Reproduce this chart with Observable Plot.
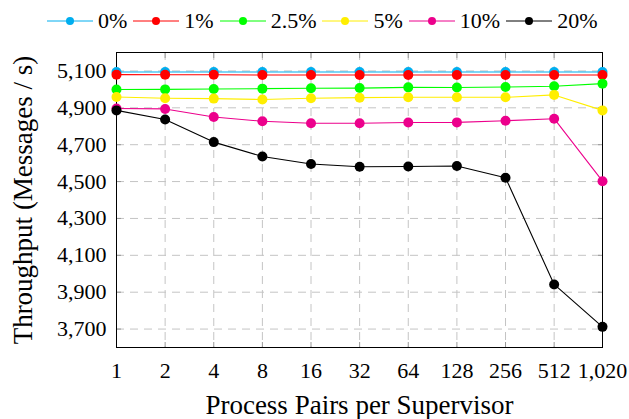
<!DOCTYPE html>
<html><head><meta charset="utf-8">
<script src="https://cdn.jsdelivr.net/npm/d3@7"></script>
<script src="https://cdn.jsdelivr.net/npm/@observablehq/plot@0.6"></script>
<style>
body { margin: 0; background: #fff; }
.c { font-family: 'Liberation Serif'; }
#legend { height: 40px; display: flex; align-items: center; padding-left: 47px; padding-top: 2px; box-sizing: border-box; color: #000; font-size: 22px; }
.item { display: flex; align-items: center; margin-right: 6px; }
.item svg { margin-right: 5px; }
</style></head>
<body>
<div id="legend" class="c" style="font-family:'Liberation Serif'"></div>
<div id="chart" class="c" style="font-family:'Liberation Serif'"></div>
<script>
const pairs = [1, 2, 4, 8, 16, 32, 64, 128, 256, 512, 1020];
const seriesNames = ["0%", "1%", "2.5%", "5%", "10%", "20%"];
const seriesColors = ["#00aeef", "#ff0000", "#00ff00", "#ffee00", "#ec008c", "#000000"];
const s0  = [5094, 5094, 5094, 5094, 5094, 5094, 5094, 5094, 5094, 5094, 5094];
const s1  = [5080, 5079, 5079, 5078, 5078, 5078, 5078, 5078, 5078, 5078, 5078];
const s25 = [4999, 5000, 5002, 5004, 5006, 5007, 5011, 5010, 5013, 5017, 5031];
const s5  = [4959, 4952, 4950, 4945, 4952, 4955, 4957, 4957, 4957, 4970, 4886];
const s10 = [4896, 4894, 4850, 4827, 4816, 4816, 4820, 4821, 4830, 4841, 4502];
const s20 = [4886, 4837, 4714, 4636, 4595, 4580, 4582, 4584, 4521, 3942, 3712];
const yTicks = [3700, 3900, 4100, 4300, 4500, 4700, 4900, 5100];

const allSeries = [s0, s1, s25, s5, s10, s20];
const data = [];
allSeries.forEach((vals, i) => vals.forEach((v, j) => data.push({series: seriesNames[i], x: pairs[j], y: v})));

document.getElementById("legend").innerHTML = seriesNames.map((name, i) =>
  `<div class="item"><svg width="46" height="12"><line x1="0" x2="46" y1="6" y2="6" stroke="${seriesColors[i]}" stroke-width="1"/><circle cx="23" cy="6" r="4" fill="${seriesColors[i]}"/></svg><span style="font-family:'Liberation Serif'">${name}</span></div>`
).join("");

const fmt = d3.format(",");
const F = "Liberation Serif";
const chart = Plot.plot({
  width: 629,
  height: 379,
  marginTop: 12,
  marginBottom: 72,
  marginLeft: 116,
  marginRight: 27,
  style: {fontFamily: F, fontSize: "22px"},
  x: {type: "log", base: 2, domain: [1, 1020]},
  y: {domain: [3600, 5200]},
  color: {domain: seriesNames, range: seriesColors},
  marks: [
    Plot.gridX(pairs, {stroke: "#c4c4c4", strokeOpacity: 1, strokeDasharray: "8,6"}),
    Plot.gridY(yTicks, {stroke: "#c4c4c4", strokeOpacity: 1, strokeDasharray: "8,6"}),
    Plot.axisX(pairs, {tickSize: -5, stroke: "#999", text: null, label: null}),
    Plot.axisX(pairs, {anchor: "top", tickSize: -5, stroke: "#999", text: null, label: null}),
    Plot.axisY(yTicks, {tickSize: -5, stroke: "#999", text: null, label: null}),
    Plot.axisY(yTicks, {anchor: "right", tickSize: -5, stroke: "#999", text: null, label: null}),
    Plot.axisX(pairs, {tickSize: 0, tickPadding: 15, tickFormat: fmt, fontFamily: F, fontSize: 22, label: null}),
    Plot.axisX({anchor: "bottom", ticks: [], tickSize: 0, fontFamily: F, fontSize: 27, label: "Process Pairs per Supervisor", labelAnchor: "center", labelArrow: "none", labelOffset: 66}),
    Plot.axisY(yTicks, {tickSize: 0, tickPadding: 10, tickFormat: fmt, fontFamily: F, fontSize: 22, label: null}),
    Plot.axisY({anchor: "left", ticks: [], tickSize: 0, fontFamily: F, fontSize: 27, label: "Throughput (Messages / s)", labelAnchor: "center", labelArrow: "none", labelOffset: 104}),
    Plot.frame({stroke: "#000", strokeWidth: 1}),
    Plot.line(data, {x: "x", y: "y", z: "series", stroke: "series", strokeWidth: 1.1}),
    Plot.dot(data, {x: "x", y: "y", fill: "series", r: 5})
  ]
});
document.getElementById("chart").appendChild(chart);
</script>
</body></html>
